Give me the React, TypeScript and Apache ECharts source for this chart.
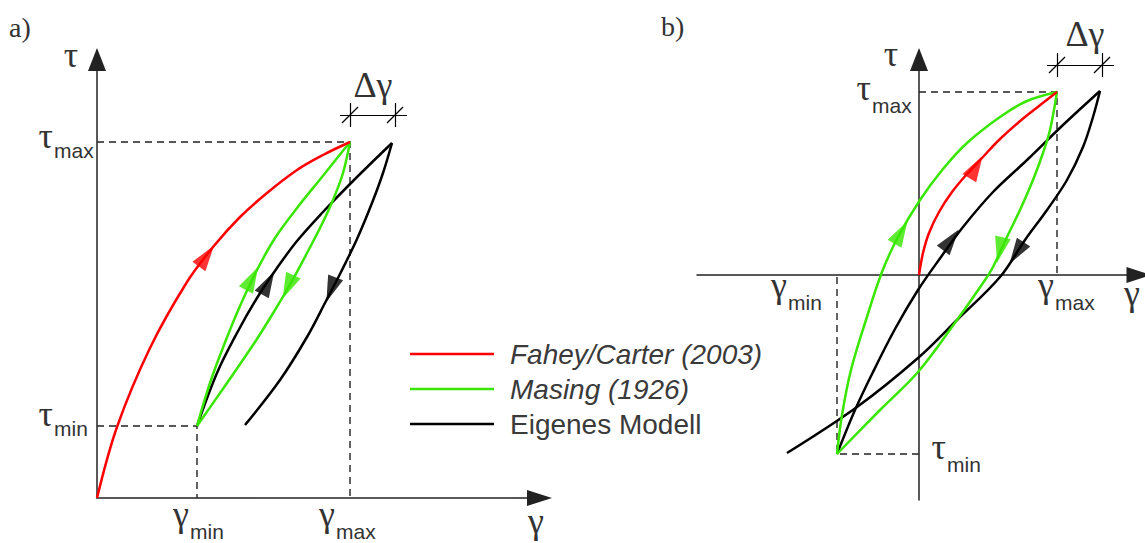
import React, { useEffect, useRef } from "react";
import * as echarts from "echarts";

// ---------- names ----------
const NAME_F = "Fahey/Carter (2003)";
const NAME_M = "Masing (1926)";
const NAME_E = "Eigenes Modell";

// ---------- panel a) (units: origin at axis crossing) ----------
const gammaMinA = 100;
const gammaMaxA = 253;
const tauMinA = 72;
const tauMaxA = 356;
const deltaGammaA = 45;
const dimLevelA = 383;

const faheyA = [[0, 0], [20, 71], [53, 150], [90, 216], [116, 251], [143, 281], [170, 305], [200, 328], [226, 343], [253, 356]];
const masingUpA = [[100, 72], [113, 115], [127, 153], [143, 192], [160, 228], [178, 260], [200, 290], [225, 321], [253, 356]];
const masingDownA = [[253, 356], [246, 325], [236, 298], [224, 272], [210, 245], [195, 217], [178, 188], [158, 156], [130, 115], [100, 72]];
const eigenUpA = [[100, 72], [120, 125], [140, 165], [160, 200], [180, 230], [200, 257], [225, 285], [255, 316], [295, 355]];
const eigenDownA = [[295, 355], [286, 325], [275, 295], [260, 259], [244, 226], [229, 197], [210, 161], [183, 118], [148, 73]];

// arrows: [baseX, baseY, tipX, tipY]
const arrowsFaheyA = [[103, 233, 116, 251]];
const arrowsMasingA = [[149, 208, 161, 231], [196, 222, 186, 200]];
const arrowsEigenA = [[165, 204, 177, 226], [238, 219, 230, 198]];

// ---------- panel b) ----------
const gammaMinB = -82;
const gammaMaxB = 138;
const tauMinB = -179;
const tauMaxB = 183;
const deltaGammaB = 45;
const dimLevelB = 210;

const faheyB = [[0, 0], [4, 22], [10, 42], [20, 63], [33, 83], [48, 101], [63, 117], [80, 135], [100, 153], [120, 169], [138, 183]];
const masingUpB = [[-82, -179], [-77, -140], [-68, -95], [-53, -45], [-37, 3], [-21, 38], [1, 75], [24, 106], [48, 132], [81, 158], [108, 174], [138, 183]];
const masingDownB = [[138, 183], [131, 145], [124, 122], [114, 95], [101, 65], [88, 38], [74, 8], [66, -5], [38, -45], [-1, -97], [-39, -135], [-82, -179]];
const eigenUpB = [[-82, -179], [-64, -135], [-46, -97], [-24, -54], [-1, -15], [22, 18], [44, 48], [74, 83], [108, 115], [144, 150], [181, 184]];
const eigenDownB = [[181, 184], [174, 158], [164, 128], [148, 95], [128, 65], [106, 35], [81, -2], [38, -45], [-1, -83], [-62, -132], [-132, -178]];

const arrowsFaheyB = [[51, 98, 63, 118]];
const arrowsMasingB = [[-24, 32, -12, 53], [84, 38, 78, 12]];
const arrowsEigenB = [[26, 27, 38, 43], [104, 32, 91, 12]];

// ---------- styles ----------
const RED = "#ff0000";
const GREEN = "#38e600";
const BLACK = "#000000";
const AXIS = "#222222";
const TXT = "#333333";
const GREEK = '36px "Liberation Serif", "DejaVu Serif", serif';
const SUB = '21px "Liberation Sans", Arial, sans-serif';

function curve(name: string, data: number[][], color: string, idx: number) {
  return {
    type: "line",
    name,
    xAxisIndex: idx,
    yAxisIndex: idx,
    data,
    symbol: "none",
    showSymbol: false,
    smooth: 0.35,
    lineStyle: { color, width: 2.5 },
    itemStyle: { color },
    silent: true,
    z: 3,
  };
}

function arrows(name: string, list: number[][], color: string, idx: number) {
  return {
    type: "scatter",
    name,
    xAxisIndex: idx,
    yAxisIndex: idx,
    symbol: "triangle",
    symbolSize: [16, 26],
    itemStyle: { color },
    silent: true,
    z: 4,
    data: list.map(([bx, by, tx, ty]) => ({
      value: [(bx + tx) / 2, (by + ty) / 2],
      symbolRotate: (Math.atan2(-(tx - bx), ty - by) * 180) / Math.PI,
    })),
  };
}

function guides(idx: number, gMin: number, gMax: number, tMin: number, tMax: number) {
  return {
    type: "lines",
    coordinateSystem: "cartesian2d",
    xAxisIndex: idx,
    yAxisIndex: idx,
    polyline: true,
    silent: true,
    clip: false,
    z: 1,
    lineStyle: { color: "#222", width: 1.4, type: [7, 5], opacity: 1 },
    data: [
      { coords: [[0, tMax], [gMax, tMax], [gMax, 0]] },
      { coords: [[0, tMin], [gMin, tMin], [gMin, 0]] },
    ],
  };
}

function dimension(idx: number, gMax: number, dg: number, level: number) {
  const g2 = gMax + dg;
  const s = 8;
  return {
    type: "lines",
    coordinateSystem: "cartesian2d",
    xAxisIndex: idx,
    yAxisIndex: idx,
    silent: true,
    clip: false,
    z: 2,
    lineStyle: { color: BLACK, width: 1.2, opacity: 1 },
    data: [
      { coords: [[gMax - 10, level], [g2 + 12, level]] },
      { coords: [[gMax, level - 12], [gMax, level + 12]] },
      { coords: [[g2, level - 12], [g2, level + 12]] },
      { coords: [[gMax - s, level - s], [gMax + s, level + s]] },
      { coords: [[g2 - s, level - s], [g2 + s, level + s]] },
    ],
  };
}

function axis(idx: number, min: number, max: number, symSize: number[]) {
  return {
    type: "value",
    gridIndex: idx,
    min,
    max,
    axisLine: {
      show: true,
      onZero: true,
      symbol: ["none", "triangle"],
      symbolSize: symSize,
      lineStyle: { color: AXIS, width: 1.5 },
    },
    axisTick: { show: false },
    axisLabel: { show: false },
    splitLine: { show: false },
  };
}

function t(text: string, x: number, y: number, font: string, align = "left") {
  return {
    type: "text",
    x,
    y,
    silent: true,
    style: {
      text,
      font,
      fill: TXT,
      align,
      textAlign: align,
      verticalAlign: "middle",
      textVerticalAlign: "middle",
    },
  };
}

export default function App() {
  const ref = useRef<HTMLDivElement>(null);

  useEffect(() => {
    if (!ref.current) return;
    const chart = echarts.init(ref.current, undefined, { renderer: "svg" });
    const option = {
      animation: false,
      backgroundColor: "#ffffff",
      grid: [
        { left: 97, top: 59.5, width: 442.5, height: 438.5 },
        { left: 697, top: 59.5, width: 442, height: 440.5 },
      ],
      xAxis: [axis(0, 0, 442.5, [16, 25]), axis(1, -222, 220, [16, 25])],
      yAxis: [axis(0, 0, 438.5, [18, 23]), axis(1, -225, 215.5, [18, 23])],
      legend: {
        data: [
          { name: NAME_F, textStyle: { fontStyle: "italic" } },
          { name: NAME_M, textStyle: { fontStyle: "italic" } },
          { name: NAME_E },
        ],
        orient: "vertical",
        left: 410,
        top: 340,
        padding: 0,
        icon: "rect",
        itemWidth: 84,
        itemHeight: 2.5,
        itemGap: 7,
        selectedMode: false,
        textStyle: {
          fontSize: 28,
          fontFamily: '"Liberation Sans", Arial, sans-serif',
          color: "#3a3a3a",
          padding: [0, 0, 0, 11],
        },
      },
      series: [
        guides(0, gammaMinA, gammaMaxA, tauMinA, tauMaxA),
        guides(1, gammaMinB, gammaMaxB, tauMinB, tauMaxB),
        dimension(0, gammaMaxA, deltaGammaA, dimLevelA),
        dimension(1, gammaMaxB, deltaGammaB, dimLevelB),
        curve(NAME_E, eigenUpA, BLACK, 0),
        curve(NAME_E, eigenDownA, BLACK, 0),
        curve(NAME_M, masingUpA, GREEN, 0),
        curve(NAME_M, masingDownA, GREEN, 0),
        curve(NAME_F, faheyA, RED, 0),
        curve(NAME_E, eigenUpB, BLACK, 1),
        curve(NAME_E, eigenDownB, BLACK, 1),
        curve(NAME_M, masingUpB, GREEN, 1),
        curve(NAME_M, masingDownB, GREEN, 1),
        curve(NAME_F, faheyB, RED, 1),
        arrows("arrow-f-a", arrowsFaheyA, RED, 0),
        arrows("arrow-m-a", arrowsMasingA, GREEN, 0),
        arrows("arrow-e-a", arrowsEigenA, BLACK, 0),
        arrows("arrow-f-b", arrowsFaheyB, RED, 1),
        arrows("arrow-m-b", arrowsMasingB, GREEN, 1),
        arrows("arrow-e-b", arrowsEigenB, BLACK, 1),
      ],
      graphic: [
        t("a)", 9, 27, '28px "Liberation Serif", serif'),
        t("b)", 661, 26, '28px "Liberation Serif", serif'),
        // panel a
        t("τ", 71, 55, GREEK, "center"),
        t("τ", 53, 135.5, GREEK, "right"),
        t("max", 54, 150, SUB),
        t("τ", 53, 414, GREEK, "right"),
        t("min", 54, 428, SUB),
        t("γ", 189, 514, GREEK, "right"),
        t("min", 190, 531, SUB),
        t("γ", 335, 514, GREEK, "right"),
        t("max", 336, 531, SUB),
        t("γ", 536, 521, GREEK, "center"),
        t("Δγ", 373, 85, GREEK, "center"),
        // panel b
        t("τ", 891, 54, GREEK, "center"),
        t("τ", 871, 88, GREEK, "right"),
        t("max", 872, 105.5, SUB),
        t("τ", 946, 447, GREEK, "right"),
        t("min", 947, 464, SUB),
        t("γ", 787, 285, GREEK, "right"),
        t("min", 788, 302, SUB),
        t("γ", 1054, 285, GREEK, "right"),
        t("max", 1055, 302, SUB),
        t("γ", 1132, 293, GREEK, "center"),
        t("Δγ", 1085, 34, GREEK, "center"),
      ],
    };
    chart.setOption(option as any);
    return () => chart.dispose();
  }, []);

  return (
    <div
      ref={ref}
      style={{ position: "absolute", left: 0, top: 0, width: 1145, height: 543 }}
    />
  );
}
